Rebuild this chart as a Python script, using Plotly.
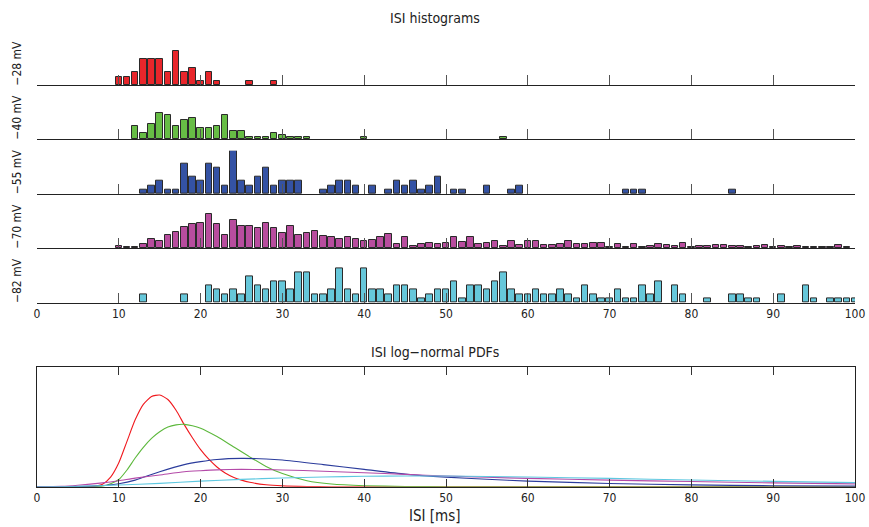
import plotly.graph_objects as go

# ---------------- data ----------------
row_labels = ["\u221228 mV", "\u221240 mV", "\u221255 mV", "\u221270 mV", "\u221282 mV"]
row_colors = ["#e8262b", "#67bd45", "#3452a4", "#b84d9e", "#66c7da"]
row_ymax = [10, 20, 10, 40, 10]

red_isi = [10, 11, 12, 13, 14, 15, 16, 17, 18, 19, 20, 21, 22, 26, 29]
red_cnt = [2, 2, 3, 6, 6, 6, 3, 8, 3, 4, 1, 3, 1, 1, 1]

green_isi = [12, 13, 14, 15, 16, 17, 18, 19, 20, 21, 22, 23, 24, 25, 26, 27, 28, 29, 30, 31, 32, 33, 40, 57]
green_cnt = [6, 3, 7, 12, 11, 6, 9, 10, 5, 5, 6, 11, 4, 4, 1, 1, 1, 3, 2, 1, 1, 1, 1, 1]

blue_isi = [13, 14, 15, 16, 17, 18, 19, 20, 21, 22, 23, 24, 25, 26, 27, 28, 29, 30, 31, 32,
            35, 36, 37, 38, 39, 41, 43, 44, 45, 46, 47, 48, 49, 51, 52, 55, 58, 59, 72, 73, 74, 85]
blue_cnt = [1, 2, 3, 1, 1, 7, 4, 3, 7, 6, 2, 10, 3, 2, 4, 6, 2, 3, 3, 3,
            1, 2, 3, 3, 2, 2, 1, 3, 2, 3, 1, 2, 4, 1, 1, 2, 1, 2, 1, 1, 1, 1]

purple_isi = list(range(10, 100))
purple_cnt = [2, 1, 1, 4, 9, 7, 12, 15, 20, 22,
              23, 32, 22, 12, 26, 21, 21, 19, 23, 19,
              14, 21, 12, 14, 16, 11, 10, 9, 10, 9,
              7, 8, 10, 13, 4, 10, 2, 4, 5, 4,
              5, 10, 6, 10, 4, 5, 7, 2, 7, 3,
              7, 7, 3, 3, 4, 7, 4, 4, 5, 5,
              1, 4, 1, 4, 1, 2, 4, 3, 2, 5,
              1, 2, 2, 3, 3, 2, 2, 1, 2, 3,
              1, 2, 1, 2, 1, 1, 1, 1, 3, 1]

cyan_isi = [13, 18, 21, 22, 23, 24, 25, 26, 27, 28, 29, 30, 31, 32, 33, 34, 35, 36, 37, 38, 39,
            40, 41, 42, 43, 44, 45, 46, 47, 48, 49, 50, 51, 52, 53, 54, 55, 56, 57, 58, 59,
            60, 61, 62, 63, 64, 65, 66, 67, 68, 69, 70, 71, 72, 73, 74, 75, 76, 78, 79,
            82, 85, 86, 87, 88, 91, 94, 95, 97, 98, 99, 100]
cyan_cnt = [2, 2, 4, 3, 2, 3, 2, 6, 4, 3, 5, 5, 3, 7, 7, 2, 2, 3, 8, 3, 2,
            8, 3, 3, 2, 4, 4, 3, 1, 2, 3, 3, 5, 1, 4, 4, 3, 5, 7, 3, 2,
            2, 3, 2, 2, 3, 2, 1, 4, 2, 1, 1, 3, 1, 1, 4, 2, 5, 4, 2,
            1, 2, 2, 1, 1, 2, 4, 1, 1, 1, 1, 1]

hist_isi = [red_isi, green_isi, blue_isi, purple_isi, cyan_isi]
hist_cnt = [red_cnt, green_cnt, blue_cnt, purple_cnt, cyan_cnt]

# PDF curves (axis units 0..1)
pdf_red_x = [0, 6, 7, 8, 9, 10, 11, 12, 13, 14, 15, 16, 17, 18, 19, 20, 21, 22, 23, 24, 25, 26, 28, 30, 33, 36, 40, 100]
pdf_red_y = [0, 0, 0.003, 0.02, 0.08, 0.2, 0.38, 0.56, 0.69, 0.755, 0.768, 0.73, 0.64, 0.52, 0.41, 0.31, 0.23,
             0.165, 0.115, 0.08, 0.055, 0.037, 0.016, 0.007, 0.002, 0, 0, 0]
pdf_green_x = [0, 7, 8, 9, 10, 11, 12, 13, 14, 15, 16, 17, 18, 19, 20, 22, 24, 26, 28, 30, 33, 36, 40, 45, 50, 100]
pdf_green_y = [0, 0, 0.005, 0.025, 0.06, 0.14, 0.24, 0.33, 0.405, 0.46, 0.5, 0.518, 0.522, 0.51, 0.49, 0.42,
               0.335, 0.25, 0.17, 0.11, 0.05, 0.022, 0.008, 0.002, 0, 0]
pdf_blue_x = [0, 5, 8, 10, 12, 15, 18, 20, 22, 25, 28, 30, 35, 40, 45, 50, 55, 60, 70, 80, 90, 100]
pdf_blue_y = [0, 0.001, 0.01, 0.025, 0.055, 0.126, 0.185, 0.21, 0.228, 0.237, 0.232, 0.223, 0.185, 0.145,
              0.105, 0.08, 0.062, 0.047, 0.027, 0.015, 0.008, 0.005]
pdf_purple_x = [0, 3, 5, 8, 10, 12, 15, 18, 20, 22, 25, 28, 30, 35, 40, 45, 50, 55, 60, 70, 80, 90, 100]
pdf_purple_y = [0, 0.003, 0.012, 0.032, 0.05, 0.072, 0.098, 0.125, 0.134, 0.141, 0.145, 0.143, 0.14, 0.13,
                0.117, 0.103, 0.09, 0.079, 0.07, 0.055, 0.043, 0.032, 0.024]
pdf_cyan_x = [0, 5, 10, 15, 20, 25, 30, 35, 40, 45, 50, 55, 60, 70, 80, 90, 100]
pdf_cyan_y = [0, 0.003, 0.014, 0.028, 0.047, 0.061, 0.073, 0.081, 0.087, 0.089, 0.089, 0.086, 0.081, 0.07,
              0.056, 0.045, 0.034]
pdf_x = [pdf_red_x, pdf_green_x, pdf_blue_x, pdf_purple_x, pdf_cyan_x]
pdf_y = [pdf_red_y, pdf_green_y, pdf_blue_y, pdf_purple_y, pdf_cyan_y]
pdf_colors = ["#f0191e", "#5cb83c", "#2b3c9c", "#b44aa8", "#5ec8e0"]

x_ticks = list(range(0, 101, 10))

# ---------------- layout helpers ----------------
W, H = 869, 527
FONT = "Liberation Sans Narrow, DejaVu Sans Condensed, Open Sans, sans-serif"
x0, x1 = 37 / W, 855 / W
# (top px, bottom px) of each histogram row
row_px = [(42, 85.3), (96, 139.3), (150.7, 194), (205, 248.3), (259.4, 302.7)]
pdf_px = (367.3, 486.7)


def dom(top, bottom):
    return [1 - bottom / H, 1 - top / H]


fig = go.Figure()
layout = dict(
    width=W, height=H, autosize=False, margin=dict(l=0, r=0, t=0, b=0, pad=0),
    paper_bgcolor="white", plot_bgcolor="white", showlegend=False,
    font=dict(family=FONT, color="#222"), bargap=0, annotations=[],
)

for i in range(5):
    n = "" if i == 0 else str(i + 1)
    fig.add_trace(go.Bar(
        x=hist_isi[i], y=hist_cnt[i], width=0.8,
        marker=dict(color=row_colors[i], line=dict(color="#2a2a2a", width=1)),
        xaxis="x" + n, yaxis="y" + n, hoverinfo="x+y",
    ))
    layout["xaxis" + n] = dict(
        domain=[x0, x1], range=[0, 100], anchor="y" + n, automargin=False,
        showline=True, linecolor="#222", linewidth=1.3,
        ticks="inside", ticklen=10, tickwidth=1, tickcolor="#555",
        tickvals=x_ticks, showticklabels=(i == 4), tickfont=dict(size=12, family=FONT),
        showgrid=False, zeroline=False,
    )
    layout["yaxis" + n] = dict(
        domain=dom(*row_px[i]), range=[0, row_ymax[i]], anchor="x" + n, automargin=False,
        visible=False, showgrid=False, zeroline=False,
    )
    top, bottom = row_px[i]
    layout["annotations"].append(dict(
        text=row_labels[i], xref="paper", yref="paper",
        x=17 / W, y=1 - ((top + bottom) / 2) / H, textangle=-90,
        showarrow=False, font=dict(size=12, family=FONT, color="#222"),
        xanchor="center", yanchor="middle",
    ))

for i in range(5):
    fig.add_trace(go.Scatter(
        x=pdf_x[i], y=pdf_y[i], mode="lines",
        line=dict(color=pdf_colors[i], width=1.1, shape="spline", smoothing=0.6),
        xaxis="x6", yaxis="y6", hoverinfo="x+y",
    ))

layout["xaxis6"] = dict(
    domain=[x0, x1], range=[0, 100], anchor="y6", automargin=False,
    showline=True, linecolor="#222", linewidth=1, mirror="allticks",
    ticks="inside", ticklen=8, tickwidth=1, tickcolor="#333",
    tickvals=x_ticks, tickfont=dict(size=12, family=FONT),
    showgrid=False, zeroline=False,
)
layout["yaxis6"] = dict(
    domain=dom(*pdf_px), range=[0, 1], anchor="x6", automargin=False,
    showline=True, linecolor="#222", linewidth=1, mirror=True,
    ticks="", showticklabels=False, showgrid=False, zeroline=False,
)

layout["annotations"] += [
    dict(text="ISI histograms", xref="paper", yref="paper", x=0.5, y=1 - 18 / H,
         showarrow=False, font=dict(size=14, family=FONT, color="#222"), xanchor="center", yanchor="middle"),
    dict(text="ISI log\u2212normal PDFs", xref="paper", yref="paper", x=0.5, y=1 - 352 / H,
         showarrow=False, font=dict(size=14, family=FONT, color="#222"), xanchor="center", yanchor="middle"),
    dict(text="ISI [ms]", xref="paper", yref="paper", x=0.5, y=1 - 516 / H,
         showarrow=False, font=dict(size=15, family=FONT, color="#222"), xanchor="center", yanchor="middle"),
]

fig.update_layout(**layout)

fig.write_html("out.html")
